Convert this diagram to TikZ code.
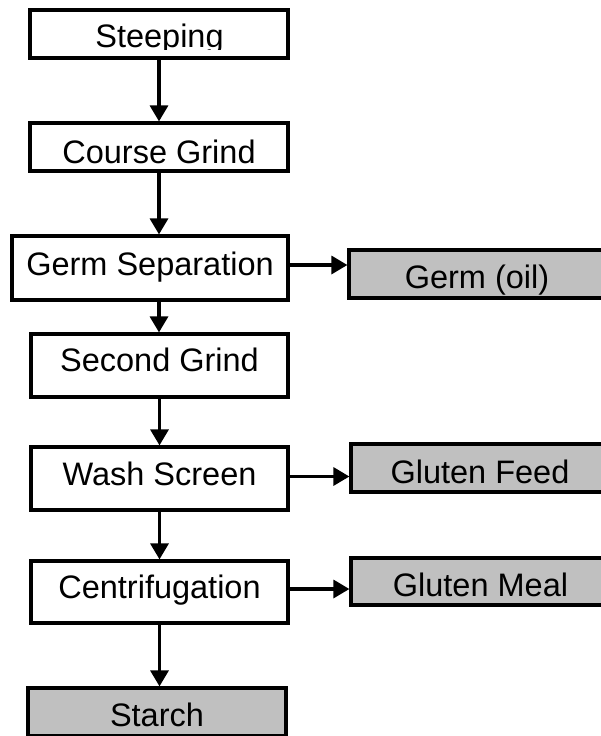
\documentclass[tikz,border=0pt]{standalone}
\usepackage{fontspec}
\setmainfont{Liberation Sans}
\usetikzlibrary{arrows.meta}
\definecolor{outgray}{HTML}{C0C0C0}
\begin{document}
\begin{tikzpicture}[x=1pt,y=-1pt,
  lbl/.style={font=\fontsize{32.5}{32.5}\selectfont},
  box/.style={draw=black, line width=3.2pt, fill=white, rectangle, inner sep=0pt, lbl, text depth=0pt},
  outbox/.style={box, fill=outgray},
  arr/.style={line width=3.2pt, -{Triangle[width=18pt,length=16pt]}}]
\clip (0,0) rectangle (601,736);
\fill[white] (0,0) rectangle (601,736);
% process boxes
\node[box, minimum width=258pt, minimum height=48pt] (steep) at (159,34) {};
\begin{scope}
  \clip (0,0) rectangle (601,49.5);
  \node[lbl, anchor=base, inner sep=0pt] (steeptxt) at (159.5,47) {Steeping};
\end{scope}
\node[box, minimum width=258pt, minimum height=48pt, text height=32pt] (course) at (159,147) {Course Grind};
\node[box, minimum width=276pt, minimum height=64pt, text height=14pt] (gsep) at (150,268) {Germ Separation};
\node[box, minimum width=257pt, minimum height=63pt, text height=12.4pt] (sgrind) at (159.5,365.5) {Second Grind};
\node[box, minimum width=257pt, minimum height=63pt, text height=13pt] (wash) at (159.5,478.5) {Wash Screen};
\node[box, minimum width=257pt, minimum height=62pt, text height=12pt] (centrif) at (159.5,592) {Centrifugation};
% outputs
\node[outbox, minimum width=256pt, minimum height=48pt, text height=28pt] (oil) at (477,274) {Germ (oil)};
\node[outbox, minimum width=258pt, minimum height=48pt, text height=30.6pt] (feed) at (480,468) {Gluten Feed};
\node[outbox, minimum width=259pt, minimum height=47pt, text height=30.4pt] (meal) at (480.5,581.5) {Gluten Meal};
\node[outbox, minimum width=258pt, minimum height=48pt, text height=28pt] (starch) at (157,712) {Starch};
% vertical connectors
\draw[arr] (steep.south) -- (course.north);
\draw[arr] (course.south) -- (course.south |- gsep.north);
\draw[arr] (gsep.south -| course.south) -- (sgrind.north -| course.south);
\draw[arr] (sgrind.south) -- (wash.north);
\draw[arr] (wash.south) -- (centrif.north);
\draw[arr] (centrif.south) -- (centrif.south |- starch.north);
% horizontal connectors
\draw[arr] ([yshift=3pt]gsep.east) -- ([yshift=3pt]gsep.east -| oil.west);
\draw[arr] ([yshift=2pt]wash.east) -- ([yshift=2pt]wash.east -| feed.west);
\draw[arr] ([yshift=3pt]centrif.east) -- ([yshift=3pt]centrif.east -| meal.west);
\end{tikzpicture}
\end{document}
